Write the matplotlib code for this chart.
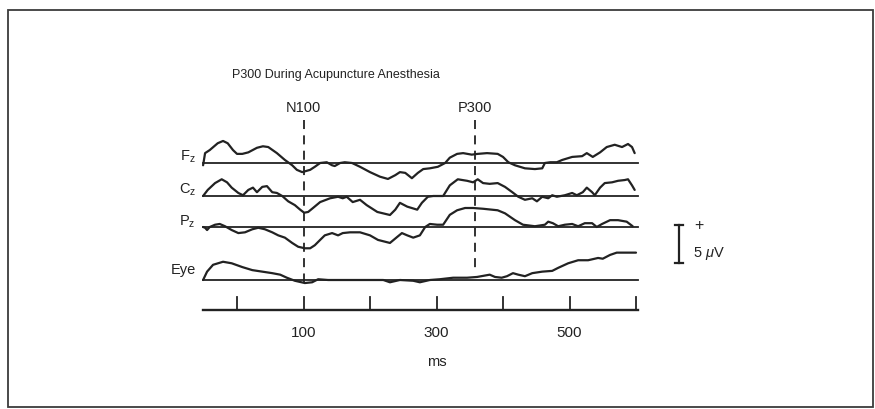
import numpy as np
import matplotlib.pyplot as plt
from matplotlib.patches import Rectangle

plt.rcParams['font.family'] = ['Liberation Sans', 'DejaVu Sans']
plt.rcParams['mathtext.fontset'] = 'custom'
plt.rcParams['mathtext.rm'] = 'Liberation Sans'
plt.rcParams['mathtext.it'] = 'Liberation Sans:italic'

#%% Data (ms, microvolts)
fz_ms = [-51, -48, -41, -29, -21, -14, -6, 0, 8, 17, 30, 39, 47, 60, 72, 83, 90, 98,
         110, 117, 125, 135, 143, 147, 155, 162, 173, 185, 200, 215, 227, 238, 245,
         253, 263, 272, 280, 290, 302, 313, 320, 331, 340, 353, 362, 376, 392, 400,
         408, 418, 433, 448, 459, 463, 471, 481, 489, 504, 519, 526, 535, 546, 556,
         568, 579, 588, 594, 598]
fz_uv = [-0.3, 1.3, 1.7, 2.6, 2.9, 2.6, 1.7, 1.2, 1.2, 1.4, 2.0, 2.2, 2.1, 1.3, 0.4,
         -0.3, -0.9, -1.2, -0.9, -0.5, 0.0, 0.1, -0.3, -0.4, 0.0, 0.1, 0.0, -0.5,
         -1.2, -1.8, -2.1, -1.6, -1.2, -1.3, -2.0, -1.3, -0.8, -0.7, -0.5, 0.0, 0.7,
         1.2, 1.3, 1.1, 1.2, 1.3, 1.2, 0.8, 0.1, -0.3, -0.7, -0.8, -0.7, 0.0, 0.1,
         0.1, 0.4, 0.8, 0.9, 1.3, 0.8, 1.4, 2.1, 2.4, 2.1, 2.5, 2.1, 1.3]

cz_ms = [-51, -44, -33, -23, -15, -8, 2, 9, 17, 24, 30, 38, 45, 53, 60, 68, 77, 87,
         95, 101, 107, 114, 125, 140, 152, 159, 165, 174, 185, 195, 211, 230, 238,
         245, 256, 271, 278, 287, 295, 310, 320, 332, 346, 355, 362, 370, 380, 392,
         403, 414, 423, 433, 444, 451, 459, 468, 474, 481, 493, 504, 511, 520, 526,
         534, 538, 546, 553, 564, 573, 583, 588, 594, 598]
cz_uv = [0.0, 0.8, 1.7, 2.2, 1.8, 1.1, 0.4, 0.1, 0.8, 1.1, 0.5, 1.2, 1.3, 0.5, 0.4,
         0.0, -0.7, -1.2, -1.8, -2.2, -2.1, -1.6, -0.8, -0.3, -0.1, -0.3, -0.1, -0.8,
         -0.5, -1.2, -2.1, -2.5, -1.8, -0.9, -1.4, -1.8, -0.9, -0.1, 0.0, 0.0, 1.4,
         2.2, 2.0, 1.8, 2.2, 1.7, 1.6, 1.7, 1.2, 0.5, -0.1, -0.5, -0.3, -0.7, -0.1,
         -0.3, 0.1, -0.1, 0.1, 0.4, 0.1, 0.5, 1.1, 0.5, 0.1, 1.1, 1.7, 1.8, 2.0, 2.1,
         2.2, 1.4, 0.8]

pz_ms = [-51, -48, -45, -41, -33, -26, -18, -8, 2, 12, 23, 32, 42, 53, 62, 72, 83,
         92, 102, 110, 117, 125, 132, 143, 152, 159, 170, 185, 200, 212, 230, 241,
         248, 256, 265, 275, 283, 290, 301, 310, 320, 331, 343, 355, 370, 392, 403,
         418, 430, 448, 463, 468, 475, 483, 493, 504, 513, 523, 534, 541, 549, 561,
         573, 586, 595]
pz_uv = [0.0, -0.1, -0.4, 0.0, 0.3, 0.4, 0.1, -0.4, -0.8, -0.7, -0.3, -0.1, -0.3,
         -0.7, -1.1, -1.4, -2.1, -2.6, -2.8, -2.8, -2.4, -1.7, -1.1, -0.8, -1.1, -0.8,
         -0.7, -0.7, -1.1, -1.7, -2.1, -1.3, -0.8, -1.1, -1.4, -1.1, 0.0, 0.4, 0.3,
         0.3, 1.6, 2.2, 2.5, 2.5, 2.4, 2.2, 1.8, 0.9, 0.3, 0.1, 0.3, 0.7, 0.5, 0.1,
         0.3, 0.4, 0.1, 0.5, 0.5, 0.0, 0.4, 0.9, 0.9, 0.7, 0.1]

eye_ms = [-51, -45, -36, -21, -8, 8, 23, 38, 53, 65, 75, 87, 102, 113, 122, 137, 158,
          185, 220, 230, 245, 265, 275, 290, 305, 325, 346, 361, 380, 388, 398, 406,
          415, 423, 433, 444, 459, 474, 483, 498, 513, 528, 543, 550, 561, 571, 588,
          600]
eye_uv = [0.0, 1.1, 2.0, 2.4, 2.2, 1.7, 1.3, 1.1, 0.9, 0.7, 0.3, -0.1, -0.4, -0.3,
          0.1, 0.0, 0.0, 0.0, 0.0, -0.3, 0.0, -0.1, -0.3, 0.0, 0.1, 0.3, 0.3, 0.4,
          0.7, 0.4, 0.3, 0.5, 0.9, 0.7, 0.5, 0.9, 1.1, 1.2, 1.6, 2.2, 2.6, 2.6, 2.9,
          2.8, 3.3, 3.6, 3.6, 3.6]

channel_labels = [r'F$_\mathrm{z}$', r'C$_\mathrm{z}$', r'P$_\mathrm{z}$', 'Eye']
tick_ms = [0, 100, 200, 300, 400, 500, 600]
label_ms = [100, 300, 500]
marker_ms = [100, 358]
marker_names = ['N100', 'P300']
scale_uv = 5

#%% Layout (pixel geometry of the original figure)
W, H = 875, 409
X0, Y0 = 237, 280          # pixel of 0 ms, pixel of Eye baseline
PX_MS, PX_UV = 0.665, 7.6  # pixels per ms, pixels per microvolt


def px(x, y):
    return (x - X0) / PX_MS, (Y0 - y) / PX_UV


ink = '#222222'
fig = plt.figure(figsize=(W / 100, H / 100), dpi=100)
ax = fig.add_axes([0, 0, 1, 1])
ax.set_xlim(px(0, 0)[0], px(W, 0)[0])
ax.set_ylim(px(0, H)[1], px(0, 0)[1])
ax.axis('off')

# outer frame
fig.patches.append(Rectangle((8 / W, 2 / H), 865 / W, 397 / H, transform=fig.transFigure,
                             fill=False, lw=1.3, ec='#3c3c3c'))

# traces
baseline_px = [163, 196, 227, 280]
series = [(fz_ms, fz_uv), (cz_ms, cz_uv), (pz_ms, pz_uv), (eye_ms, eye_uv)]
label_px = [157, 190, 222, 270]
x_start, x_end = px(203, 0)[0], px(638, 0)[0]
for (xs, ys), bpx, lab, lpx in zip(series, baseline_px, channel_labels, label_px):
    off = px(0, bpx)[1]
    ax.plot([x_start, x_end], [off, off], color=ink, lw=1.3)
    ax.plot(xs, np.array(ys) + off, color=ink, lw=1.6, solid_joinstyle='round',
            solid_capstyle='round')
    ax.text(*px(196, lpx), lab, ha='right', va='center', fontsize=10.5, color=ink)

# latency markers
for ms, name, bottom in zip(marker_ms, marker_names, [285, 273]):
    ax.plot([ms, ms], [px(0, 120)[1], px(0, bottom)[1]], color=ink, lw=1.3,
            dashes=(5, 3.5))
    ax.text(ms, px(0, 108)[1], name, ha='center', va='center', fontsize=10.5, color=ink)

# time axis
ax_y = px(0, 310)[1]
ax.plot([x_start, x_end], [ax_y, ax_y], color=ink, lw=1.7)
for t in tick_ms:
    ax.plot([t, t], [ax_y, px(0, 297)[1]], color=ink, lw=1.3)
for t in label_ms:
    ax.text(t, px(0, 333)[1], str(t), ha='center', va='center', fontsize=11, color=ink)
ax.text(300, px(0, 362)[1], 'ms', ha='center', va='center', fontsize=10.5, color=ink)

# calibration bar
sx = px(679, 0)[0]
sb = px(0, 263)[1]
cap = 4 / PX_MS
ax.plot([sx, sx], [sb, sb + scale_uv], color=ink, lw=1.6)
ax.plot([sx - cap, sx + cap], [sb, sb], color=ink, lw=1.6)
ax.plot([sx - cap, sx + cap], [sb + scale_uv, sb + scale_uv], color=ink, lw=1.6)
ax.text(*px(699, 225), '+', ha='center', va='center', fontsize=11.5, color=ink)
ax.text(*px(693, 254), r'5 $\mu$V', ha='left', va='center', fontsize=10.5, color=ink)

# title
ax.text(*px(232, 75), 'P300 During Acupuncture Anesthesia', ha='left', va='center',
        fontsize=9, color=ink)

fig.savefig('out.png', dpi=100, facecolor='white')
